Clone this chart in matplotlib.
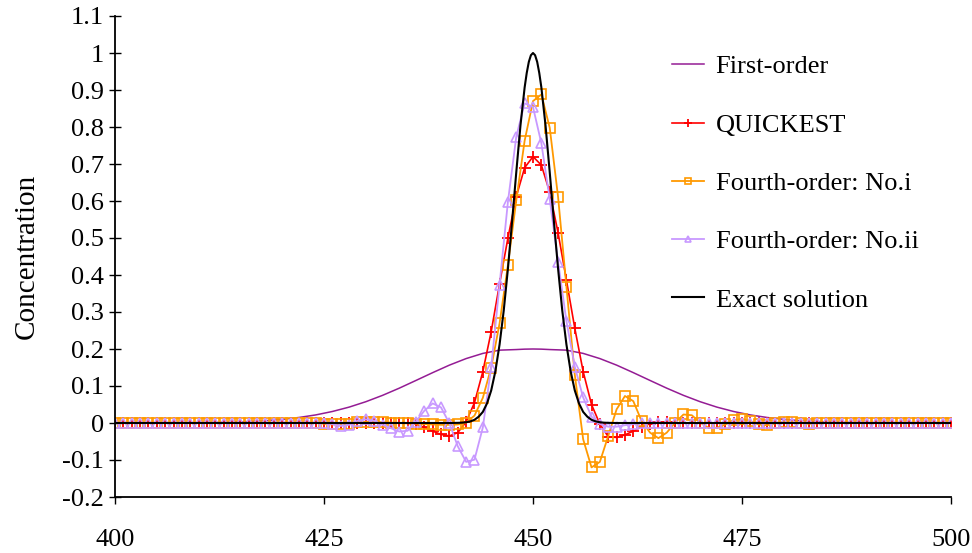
import numpy as np
import matplotlib.pyplot as plt

# grid positions of the numerical schemes (one marker per cell)
x_cells = list(range(400, 501))

# QUICKEST, values for 436..467, zero elsewhere
quickest_core = [-0.003, -0.012, -0.022, -0.031, -0.035, -0.026, 0.003, 0.055,
                 0.139, 0.247, 0.376, 0.500, 0.612, 0.690, 0.720, 0.697,
                 0.624, 0.514, 0.386, 0.256, 0.139, 0.050, -0.003, -0.037,
                 -0.039, -0.032, -0.022, -0.010, -0.002, 0.002, 0.002, 0.001]
quickest = [0.0] * 36 + quickest_core + [0.0] * 33

# Fourth-order scheme No.i, values for 425..485
fourth_i_core = [-0.002, -0.004, -0.004, -0.002, 0.002, 0.003, 0.003, 0.002,
                 0.001, 0.000, -0.001, -0.002, -0.003, -0.004, -0.005, -0.005,
                 -0.004, 0.001, 0.020, 0.068, 0.150, 0.269, 0.427, 0.602,
                 0.763, 0.870, 0.888, 0.798, 0.611, 0.368, 0.130, -0.044,
                 -0.120, -0.105, -0.035, 0.037, 0.073, 0.059, 0.005, -0.026,
                 -0.041, -0.026, 0.001, 0.023, 0.021, 0.001, -0.013, -0.013,
                 -0.004, 0.008, 0.011, 0.005, -0.004, -0.006, -0.001, 0.003,
                 0.003, 0.000, -0.002, -0.001, 0.001]
fourth_i = [0.0] * 25 + fourth_i_core + [0.0] * 15

# Fourth-order scheme No.ii, values for 426..465
fourth_ii_core = [-0.003, -0.008, -0.005, 0.006, 0.010, 0.006, -0.005, -0.014,
                  -0.023, -0.021, 0.004, 0.033, 0.053, 0.042, -0.001, -0.063,
                  -0.105, -0.099, -0.012, 0.151, 0.374, 0.598, 0.774, 0.864,
                  0.854, 0.756, 0.605, 0.436, 0.275, 0.152, 0.069, 0.017,
                  -0.003, -0.010, -0.010, -0.006, -0.003, 0.000, 0.001, 0.001]
fourth_ii = [0.0] * 26 + fourth_ii_core + [0.0] * 35

# First-order (smooth, no markers)
x_first = [400, 410, 412, 414, 416, 418, 420, 422, 424, 426, 428, 430, 432, 434,
           436, 438, 440, 442, 444, 446, 448, 449, 450, 451, 452, 454, 456, 458,
           460, 462, 464, 466, 468, 470, 472, 474, 476, 478, 480, 482, 484, 486,
           488, 490, 500]
first_order = [0.0, 0.0004, 0.0014, 0.0023, 0.0039, 0.0063, 0.0098, 0.0149,
               0.0218, 0.0311, 0.0429, 0.0575, 0.0747, 0.0941, 0.1150, 0.1361,
               0.1564, 0.1741, 0.1881, 0.1969, 0.1985, 0.1996, 0.2, 0.1996,
               0.1985, 0.1969, 0.1881, 0.1741, 0.1564, 0.1361, 0.1150, 0.0941,
               0.0747, 0.0575, 0.0429, 0.0311, 0.0218, 0.0149, 0.0098, 0.0063,
               0.0039, 0.0023, 0.0014, 0.0004, 0.0]

# Exact solution (smooth, no markers)
x_exact = [400, 440, 441, 441.5, 442, 442.5, 443, 443.5, 444, 444.5, 445, 445.5,
           446, 446.5, 447, 447.5, 448, 448.5, 449, 449.25, 449.5, 449.75, 450,
           450.25, 450.5, 450.75, 451, 451.5, 452, 452.5, 453, 453.5, 454, 454.5,
           455, 455.5, 456, 456.5, 457, 457.5, 458, 458.5, 459, 460, 500]
exact = [0.0, 0.0, 0.0004, 0.0009, 0.002, 0.0043, 0.0086, 0.017, 0.030, 0.053,
         0.088, 0.140, 0.212, 0.304, 0.417, 0.545, 0.678, 0.804, 0.907, 0.946,
         0.976, 0.994, 1.0, 0.994, 0.976, 0.946, 0.907, 0.804, 0.678, 0.545,
         0.417, 0.304, 0.212, 0.140, 0.088, 0.053, 0.030, 0.017, 0.0086,
         0.0043, 0.002, 0.0009, 0.0004, 0.0, 0.0]

y_ticks = [-0.2, -0.1, 0, 0.1, 0.2, 0.3, 0.4, 0.5, 0.6, 0.7, 0.8, 0.9, 1, 1.1]
y_tick_labels = ["-0.2", "-0.1", "0", "0.1", "0.2", "0.3", "0.4", "0.5",
                 "0.6", "0.7", "0.8", "0.9", "1", "1.1"]
x_ticks = [400, 425, 450, 475, 500]

plt.rcParams['font.family'] = ['Liberation Serif', 'DejaVu Serif']

fig = plt.figure(figsize=(9.72, 5.53), dpi=100)
ax = fig.add_axes([115 / 972, 56 / 553, 836 / 972, 481 / 553])

ax.plot(x_first, first_order, color='#941c94', lw=1.1, label='First-order')
ax.plot(x_cells, quickest, color='#ff0000', lw=1.2, marker='+', ms=8,
        mew=1.3, label='QUICKEST')
ax.plot(x_cells, fourth_i, color='#ff9900', lw=1.3, marker='s', ms=6.5,
        mfc='none', mew=1.2, label='Fourth-order: No.i')
ax.plot(x_cells, fourth_ii, color='#c899ff', lw=1.3, marker='^', ms=6.5,
        mfc='none', mew=1.2, label='Fourth-order: No.ii')
ax.plot(x_exact, exact, color='black', lw=1.5, label='Exact solution')

ax.set_xlim(400, 500)
ax.set_ylim(-0.2, 1.1)
ax.set_yticks(y_ticks)
ax.set_yticklabels(y_tick_labels)
ax.set_xticks(x_ticks)
ax.tick_params(axis='y', direction='inout', length=8, width=1, labelsize=19, pad=4)
ax.tick_params(axis='x', direction='out', length=5, width=1, labelsize=19, pad=18)
for side in ['top', 'right']:
    ax.spines[side].set_visible(False)
for side in ['left', 'bottom']:
    ax.spines[side].set_linewidth(1.3)

ax.set_ylabel("Concentration", fontsize=21, labelpad=16)

fig.legend(loc='upper left', bbox_to_anchor=(672 / 972, 1 - 55 / 553),
           frameon=False, fontsize=19, labelspacing=1.32, handlelength=1.2,
           handletextpad=0.45, borderpad=0, borderaxespad=0, markerscale=0.7)

fig.savefig("out.png", dpi=100)
